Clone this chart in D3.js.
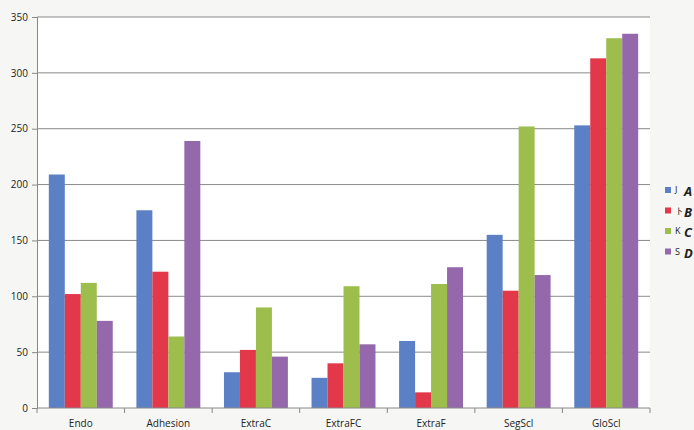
<!DOCTYPE html>
<html>
<head>
<meta charset="utf-8">
<script src="https://cdn.jsdelivr.net/npm/d3@7"></script>
<style>
  body { margin: 0; background: #f6f6f4; }
  svg { display: block; }
  text { font-family: "Open Sans", "DejaVu Sans", sans-serif; fill: #222; }
</style>
</head>
<body>
<svg width="694" height="430"></svg>
<script>
// categories and series
const categories = ["Endo", "Adhesion", "ExtraC", "ExtraFC", "ExtraF", "SegScl", "GloScl"];
const seriesNames = ["J", "ト", "K", "S"];
const seriesMarks = ["A", "B", "C", "D"];
const valuesJ = [209, 177, 32, 27, 60, 155, 253];
const valuesH = [102, 122, 52, 40, 14, 105, 313];
const valuesK = [112, 64, 90, 109, 111, 252, 331];
const valuesS = [78, 239, 46, 57, 126, 119, 335];
const yTicks = [0, 50, 100, 150, 200, 250, 300, 350];
const colors = ["#5b80c6", "#e2384a", "#9dbd4c", "#9468ab"];

const series = [valuesJ, valuesH, valuesK, valuesS];
const data = categories.map((c, i) => ({cat: c, vals: series.map(s => s[i])}));

const svg = d3.select("svg");
const margin = {top: 17, left: 37, right: 44, bottom: 22};
const width = 694 - margin.left - margin.right;
const height = 430 - margin.top - margin.bottom;
const g = svg.append("g").attr("transform", `translate(${margin.left},${margin.top})`);

// white plot paper
g.append("rect").attr("width", width).attr("height", height).attr("fill", "#fff");

const x = d3.scaleBand().domain(categories).range([0, width]).paddingInner(0.27).paddingOuter(0.135);
const x1 = d3.scaleBand().domain(seriesNames).range([0, x.bandwidth()]);
const y = d3.scaleLinear().domain([0, 350]).range([height, 0]);

// gridlines
g.selectAll(".grid").data(yTicks.slice(1)).enter().append("line")
    .attr("x1", 0).attr("x2", width)
    .attr("y1", d => y(d)).attr("y2", d => y(d))
    .attr("stroke", "#8a8a8a").attr("stroke-width", 1);

// bars
const groups = g.selectAll(".cat").data(data).enter().append("g")
    .attr("transform", d => `translate(${x(d.cat)},0)`);
groups.selectAll("rect").data(d => d.vals.map((v, i) => ({v, i}))).enter().append("rect")
    .attr("x", d => x1(seriesNames[d.i]))
    .attr("width", x1.bandwidth())
    .attr("y", d => y(d.v))
    .attr("height", d => height - y(d.v))
    .attr("fill", d => colors[d.i]);

// y axis
const yAxis = g.append("g").call(d3.axisLeft(y).tickValues(yTicks).tickSize(5).tickPadding(4));
yAxis.select(".domain").attr("stroke", "#888");
yAxis.selectAll(".tick line").attr("stroke", "#888");
yAxis.selectAll("text").style("font-size", "10px").attr("fill", "#222");

// x axis, ticks sit between the categories
const xAxis = g.append("g").attr("transform", `translate(0,${height})`);
xAxis.append("line").attr("x1", 0).attr("x2", width).attr("stroke", "#888");
const step = x.step();
xAxis.selectAll(".sep").data(d3.range(categories.length + 1)).enter().append("line")
    .attr("x1", i => i * step).attr("x2", i => i * step)
    .attr("y1", 0).attr("y2", 5).attr("stroke", "#888");
xAxis.selectAll(".lbl").data(categories).enter().append("text")
    .attr("x", d => x(d) + x.bandwidth() / 2)
    .attr("y", 19)
    .attr("text-anchor", "middle")
    .style("font-size", "10px")
    .text(d => d);

// legend
const legend = svg.append("g").attr("transform", "translate(665,187)");
seriesNames.forEach((name, i) => {
  const row = legend.append("g").attr("transform", `translate(0,${i * 20.5})`);
  row.append("rect").attr("width", 6).attr("height", 6).attr("fill", colors[i]);
  row.append("text").attr("x", 10).attr("y", 6).style("font-size", "9px").text(name);
  row.append("text").attr("x", 19).attr("y", 9)
      .style("font-size", "13px").style("font-weight", "bold").style("font-style", "italic")
      .attr("fill", "#111").text(seriesMarks[i]);
});
</script>
</body>
</html>
